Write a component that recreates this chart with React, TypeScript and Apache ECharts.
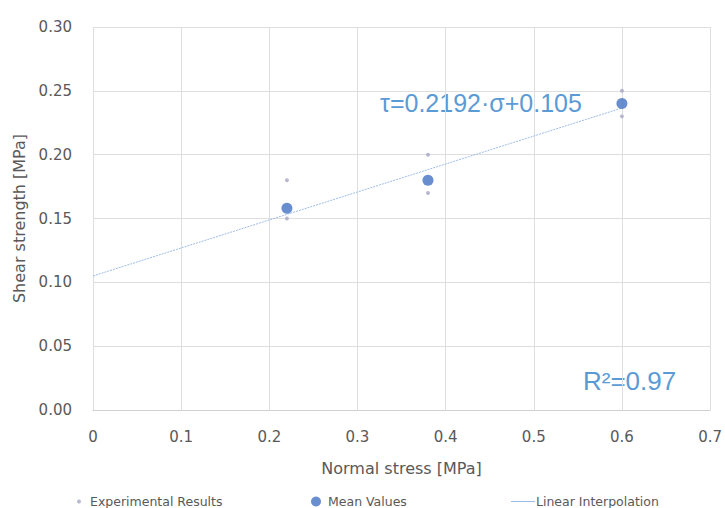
import React, { useEffect, useRef } from "react";
import * as echarts from "echarts";

const expX = [0.22, 0.22, 0.38, 0.38, 0.6, 0.6];
const expY = [0.18, 0.15, 0.2, 0.17, 0.25, 0.23];
const meanX = [0.22, 0.38, 0.6];
const meanY = [0.158, 0.18, 0.24];
const slope = 0.2192;
const intercept = 0.105;
const lineX = [0, 0.6];

export default function App() {
  const ref = useRef<HTMLDivElement>(null);
  useEffect(() => {
    if (!ref.current) return;
    const chart = echarts.init(ref.current, undefined, { renderer: "svg" });
    const font = "'DejaVu Sans', sans-serif";
    const labelColor = "#595959";
    const legendText = { color: labelColor, fontSize: 12.5, fontFamily: font };
    chart.setOption({
      animation: false,
      backgroundColor: "#ffffff",
      textStyle: { fontFamily: font },
      grid: { left: 93, right: 14, top: 27, bottom: 98, containLabel: false },
      xAxis: {
        type: "value",
        min: 0,
        max: 0.7,
        interval: 0.1,
        name: "Normal stress [MPa]",
        nameLocation: "middle",
        nameGap: 50,
        nameTextStyle: { color: labelColor, fontSize: 16, fontFamily: font },
        axisLine: { show: true, lineStyle: { color: "#d0d0d0", width: 1 } },
        axisTick: { show: false },
        axisLabel: {
          color: labelColor,
          fontSize: 15,
          fontFamily: font,
          margin: 19,
          formatter: (v: number) => (v === 0 ? "0" : String(Math.round(v * 10) / 10)),
        },
        splitLine: { show: true, lineStyle: { color: "#dedede", width: 1 } },
      },
      yAxis: {
        type: "value",
        min: 0,
        max: 0.3,
        interval: 0.05,
        name: "Shear strength [MPa]",
        nameLocation: "middle",
        nameGap: 66,
        nameTextStyle: { color: labelColor, fontSize: 16, fontFamily: font },
        axisLine: { show: false },
        axisTick: { show: false },
        axisLabel: {
          color: labelColor,
          fontSize: 15,
          fontFamily: font,
          margin: 21,
          formatter: (v: number) => v.toFixed(2),
        },
        splitLine: { show: true, lineStyle: { color: "#dedede", width: 1 } },
      },
      legend: [
        {
          data: ["Experimental Results"],
          left: 72,
          top: 490,
          itemWidth: 12,
          itemHeight: 4,
          itemGap: 0,
          textStyle: legendText,
        },
        {
          data: ["Mean Values"],
          left: 306,
          top: 490,
          itemWidth: 14,
          itemHeight: 10,
          textStyle: legendText,
        },
        {
          data: [{ name: "Linear Interpolation", icon: "rect" }],
          left: 506,
          top: 490,
          itemWidth: 24,
          itemHeight: 1,
          textStyle: { ...legendText, padding: [0, 0, 0, -4] },
        },
      ],
      series: [
        {
          name: "Linear Interpolation",
          type: "line",
          data: lineX.map((x) => [x, slope * x + intercept]),
          symbol: "none",
          lineStyle: { color: "#9dbbe6", width: 1, type: [2, 1] },
          itemStyle: { color: "#9dbbe6" },
          z: 1,
        },
        {
          name: "Experimental Results",
          type: "scatter",
          data: expX.map((x, i) => [x, expY[i]]),
          symbol: "circle",
          symbolSize: 4,
          itemStyle: { color: "#a6a6c6" },
          z: 2,
        },
        {
          name: "Mean Values",
          type: "scatter",
          data: meanX.map((x, i) => [x, meanY[i]]),
          symbol: "circle",
          symbolSize: 11,
          itemStyle: { color: "#4472c4" },
          z: 3,
        },
      ],
      graphic: [
        {
          type: "text",
          left: 380,
          top: 90,
          style: {
            text: "τ=0.2192·σ+0.105",
            fill: "#5b9bd5",
            fontSize: 25,
            fontFamily: "'Liberation Sans', Arial, sans-serif",
          },
        },
        {
          type: "text",
          left: 583,
          top: 368,
          style: {
            text: "R²=0.97",
            fill: "#5b9bd5",
            fontSize: 26,
            fontFamily: "'Liberation Sans', Arial, sans-serif",
          },
        },
      ],
    });
    return () => chart.dispose();
  }, []);
  return <div ref={ref} style={{ width: 725, height: 508, position: "absolute", left: 0, top: 0 }} />;
}
